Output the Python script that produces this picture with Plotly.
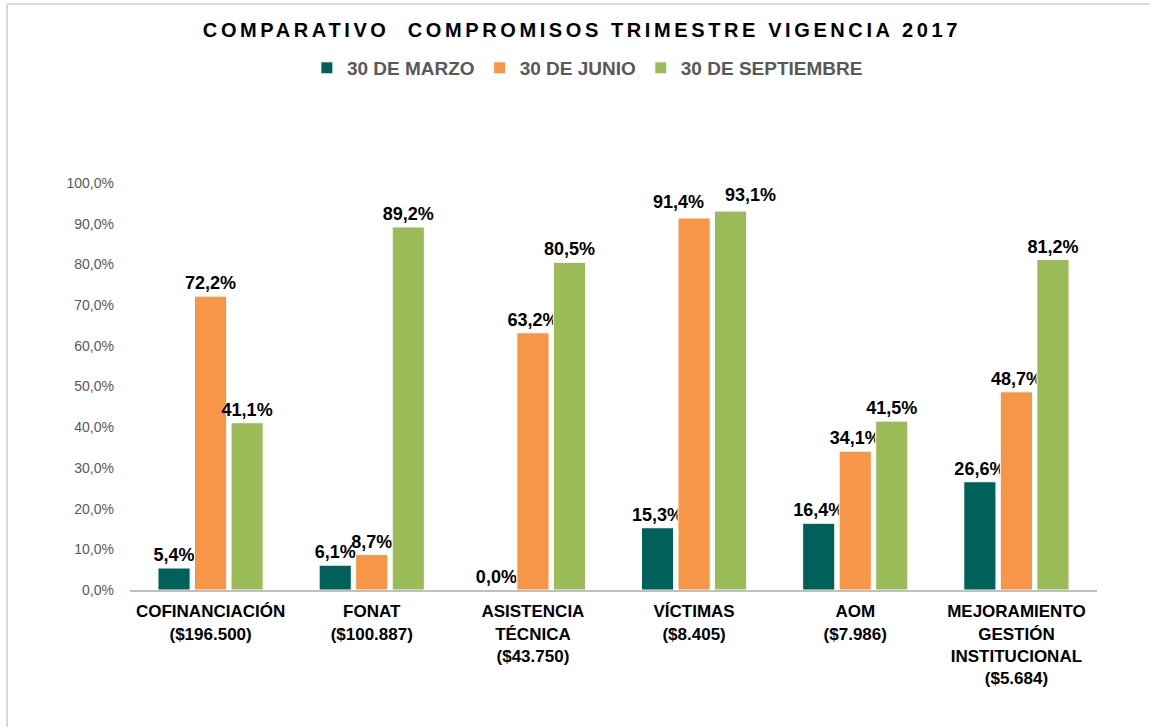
import plotly.graph_objects as go

categories = [
    "COFINANCIACIÓN<br>($196.500)",
    "FONAT<br>($100.887)",
    "ASISTENCIA<br>TÉCNICA<br>($43.750)",
    "VÍCTIMAS<br>($8.405)",
    "AOM<br>($7.986)",
    "MEJORAMIENTO<br>GESTIÓN<br>INSTITUCIONAL<br>($5.684)",
]
series_names = ["30 DE MARZO", "30 DE JUNIO", "30 DE SEPTIEMBRE"]
marzo = [5.4, 6.1, 0.0, 15.3, 16.4, 26.6]
junio = [72.2, 8.7, 63.2, 91.4, 34.1, 48.7]
septiembre = [41.1, 89.2, 80.5, 93.1, 41.5, 81.2]
colors = ["#00605A", "#F79646", "#9BBB59"]
tick_vals = [0, 10, 20, 30, 40, 50, 60, 70, 80, 90, 100]
tick_text = ["0,0%", "10,0%", "20,0%", "30,0%", "40,0%", "50,0%",
             "60,0%", "70,0%", "80,0%", "90,0%", "100,0%"]


def fmt(v):
    return f"{v:.1f}".replace(".", ",") + "%"


FONT = "Liberation Sans, Arial, sans-serif"
LABEL_SIZE = 18
# data labels nudged sideways (as in the reference) : (series index, category index) -> px shift
nudged = {(1, 3): -16, (2, 3): 20}

fig = go.Figure()
all_series = [marzo, junio, septiembre]
slot = 161 * 0.68 / 3
annotations = []
for si, (name, vals, col) in enumerate(zip(series_names, all_series, colors)):
    texts = []
    for ci, v in enumerate(vals):
        if (si, ci) in nudged:
            texts.append("")
            annotations.append(dict(
                x=categories[ci], y=v, xref="x", yref="y", text=fmt(v), showarrow=False,
                xshift=(si - 1) * slot + nudged[(si, ci)], yshift=4, yanchor="bottom",
                font=dict(family=FONT, size=LABEL_SIZE, color="black", weight="bold"),
            ))
        else:
            texts.append(fmt(v))
    fig.add_trace(go.Bar(
        x=categories, y=vals, name=name, text=texts,
        marker=dict(color=col, line=dict(color="white", width=1)),
        textposition="outside",
        textfont=dict(family=FONT, size=LABEL_SIZE, color="black", weight="bold"),
        constraintext="none", cliponaxis=False,
    ))

fig.update_layout(
    width=1150, height=727,
    paper_bgcolor="white", plot_bgcolor="white",
    barmode="group", bargap=0.32, bargroupgap=0.12,
    margin=dict(l=130, r=53, t=183, b=137),
    title=dict(
        text="COMPARATIVO  COMPROMISOS TRIMESTRE VIGENCIA 2017",
        x=0.506, xanchor="center", y=1 - 30 / 727, yanchor="middle",
        font=dict(family=FONT, size=20, color="black", weight="bold"),
    ),
    legend=dict(
        orientation="h", x=0.473, xanchor="center", y=1.2826, yanchor="middle",
        font=dict(family=FONT, size=19, color="#595959", weight="bold"),
        itemwidth=30, traceorder="normal",
    ),
    showlegend=True,
    annotations=annotations,
    xaxis=dict(
        showgrid=False, showline=True, linecolor="#BFBFBF", linewidth=2,
        ticks="", ticklabelstandoff=5,
        tickfont=dict(family=FONT, size=17, color="black", weight="bold"),
    ),
    yaxis=dict(
        range=[0, 100], tickvals=tick_vals, ticktext=tick_text,
        showgrid=False, zeroline=False, showline=False, ticks="",
        tickfont=dict(family=FONT, size=14, color="#595959"),
        ticklabelstandoff=15,
    ),
    shapes=[
        dict(type="line", xref="paper", yref="paper",
             x0=(7 - 130) / 967, x1=(7 - 130) / 967, y0=(590 - 4) / 407, y1=(590 - 727) / 407,
             line=dict(color="#D9D9D9", width=2)),
        dict(type="line", xref="paper", yref="paper",
             x0=(7 - 130) / 967, x1=(1150 - 130) / 967, y0=(590 - 4) / 407, y1=(590 - 4) / 407,
             line=dict(color="#D9D9D9", width=2)),
    ],
)

post = """
document.body.style.margin = '0';
document.documentElement.style.margin = '0';
document.body.style.overflow = 'hidden';
var t = document.querySelectorAll('.gtitle');
t.forEach(function(e){ e.style.letterSpacing = '3.6px'; });
"""
fig.write_html("out.html", post_script=post, config={"displayModeBar": False})
